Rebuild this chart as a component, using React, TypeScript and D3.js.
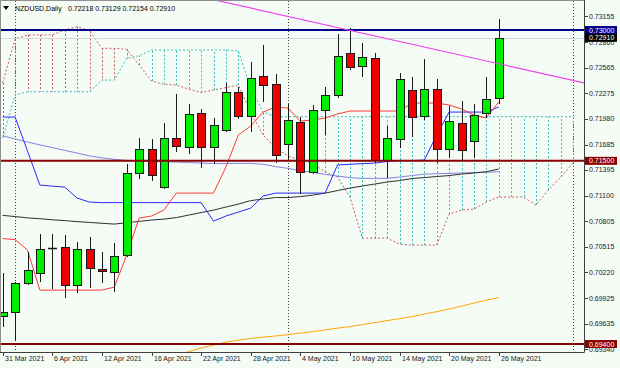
import React from 'react';
import * as d3 from 'd3';

// ---------- data ----------
const dates = [
  '2021-03-31', '2021-04-01', '2021-04-02', '2021-04-05', '2021-04-06', '2021-04-07', '2021-04-08', '2021-04-09',
  '2021-04-12', '2021-04-13', '2021-04-14', '2021-04-15', '2021-04-16', '2021-04-19', '2021-04-20', '2021-04-21',
  '2021-04-22', '2021-04-23', '2021-04-26', '2021-04-27', '2021-04-28', '2021-04-29', '2021-04-30', '2021-05-03',
  '2021-05-04', '2021-05-05', '2021-05-06', '2021-05-07', '2021-05-10', '2021-05-11', '2021-05-12', '2021-05-13',
  '2021-05-14', '2021-05-17', '2021-05-18', '2021-05-19', '2021-05-20', '2021-05-21', '2021-05-24', '2021-05-25',
  '2021-05-26',
];
const futureDates = ['2021-05-27', '2021-05-28', '2021-05-31', '2021-06-01', '2021-06-02', '2021-06-03'];

const openP = [
  0.69723, 0.69769, 0.70095, 0.70209, 0.70503, 0.70514, 0.70072, 0.70485, 0.70262, 0.70228,
  0.70419, 0.71356, 0.71635, 0.71196, 0.71758, 0.71661, 0.72045, 0.71661, 0.71853, 0.72285,
  0.72014, 0.72472, 0.72377, 0.71689, 0.71948, 0.71368, 0.72082, 0.72251, 0.72740, 0.72587,
  0.72682, 0.71509, 0.71750, 0.72308, 0.72017, 0.72327, 0.71632, 0.71937, 0.71727, 0.72051,
  0.72218,
];
const highP = [
  0.70209, 0.70110, 0.70457, 0.70660, 0.70660, 0.70649, 0.70572, 0.70622, 0.70457, 0.70553,
  0.71463, 0.71765, 0.71750, 0.71937, 0.72262, 0.72148, 0.72094, 0.71994, 0.72396, 0.72350,
  0.72636, 0.72828, 0.72492, 0.72148, 0.71999, 0.72140, 0.72350, 0.72954, 0.73023, 0.72854,
  0.72740, 0.71899, 0.72510, 0.72464, 0.72664, 0.72438, 0.72128, 0.72189, 0.72148, 0.72464,
  0.73129,
];
const lowP = [
  0.69597, 0.69430, 0.70075, 0.70113, 0.70026, 0.69923, 0.69987, 0.70037, 0.70095, 0.69998,
  0.70396, 0.71291, 0.71271, 0.71180, 0.71604, 0.71574, 0.71420, 0.71463, 0.71834, 0.71976,
  0.71834, 0.72171, 0.71471, 0.71509, 0.71119, 0.71350, 0.71796, 0.72220, 0.72541, 0.72464,
  0.71471, 0.71299, 0.71650, 0.71769, 0.71968, 0.71471, 0.71528, 0.71509, 0.71535, 0.71987,
  0.72154,
];
const closeP = [
  0.69769, 0.70095, 0.70247, 0.70485, 0.70503, 0.70072, 0.70485, 0.70267, 0.70236, 0.70408,
  0.71356, 0.71635, 0.71337, 0.71758, 0.71670, 0.72037, 0.71661, 0.71910, 0.72285, 0.72014,
  0.72453, 0.72369, 0.71566, 0.71964, 0.71368, 0.72082, 0.72251, 0.72702, 0.72579, 0.72687,
  0.71509, 0.71758, 0.72435, 0.72006, 0.72320, 0.71632, 0.71956, 0.71624, 0.72025, 0.72205,
  0.72910,
];

const tenkan = [
  0.70609, 0.70597, 0.70477, 0.70018, 0.70018, 0.70018, 0.70018, 0.70018, 0.70018, 0.70052,
  0.70419, 0.70844, 0.70867, 0.70935, 0.71130, 0.71130, 0.71130, 0.71130, 0.71429, 0.71796,
  0.71899, 0.72059, 0.72117, 0.72105, 0.71956, 0.71968, 0.71991, 0.72037, 0.72071, 0.72071,
  0.72071, 0.72071, 0.72071, 0.72163, 0.72163, 0.72163, 0.72140, 0.72094, 0.72025, 0.71991,
  0.72174,
];
const kijun = [
  0.72002, 0.72002, 0.71612, 0.71222, 0.71210, 0.71199, 0.71073, 0.71027, 0.71021, 0.71021,
  0.71021, 0.71021, 0.71021, 0.71021, 0.71021, 0.71021, 0.71021, 0.70809, 0.70867, 0.70912,
  0.70958, 0.71096, 0.71130, 0.71130, 0.71130, 0.71130, 0.71130, 0.71452, 0.71460, 0.71469,
  0.71474, 0.71492, 0.71503, 0.71503, 0.71509, 0.71796, 0.72059, 0.72059, 0.72059, 0.72059,
  0.72117,
];
const spanA = [
  0.72392, 0.72897, 0.72943, 0.72943, 0.72943, 0.73000, 0.73038, 0.72994, 0.72790, 0.72790,
  0.72779, 0.72599, 0.72415, 0.72377, 0.72369, 0.72323, 0.72283, 0.72312, 0.72340, 0.72369,
  0.72059, 0.71796, 0.71647, 0.71555, 0.71509, 0.71474, 0.71371, 0.71314, 0.71085, 0.70614,
  0.70614, 0.70614, 0.70545, 0.70534, 0.70534, 0.70534, 0.70890, 0.70935, 0.70947, 0.71027,
  0.71085, 0.71085, 0.71085, 0.70993, 0.71165, 0.71314, 0.71474,
];
const spanB = [
  0.71761, 0.72254, 0.72292, 0.72292, 0.72292, 0.72292, 0.72292, 0.72292, 0.72426, 0.72426,
  0.72675, 0.72705, 0.72771, 0.72771, 0.72771, 0.72771, 0.72771, 0.72771, 0.72771, 0.72759,
  0.72335, 0.72059, 0.72006, 0.72006, 0.72006, 0.72006, 0.72006, 0.72006, 0.72006, 0.72006,
  0.72006, 0.72006, 0.72006, 0.72006, 0.72006, 0.72006, 0.72006, 0.72006, 0.72006, 0.72006,
  0.72006, 0.72006, 0.72006, 0.72006, 0.72006, 0.72006, 0.72006,
];
const maBlack = [
  0.70875, 0.70861, 0.70846, 0.70836, 0.70824, 0.70815, 0.70803, 0.70794, 0.70784, 0.70775,
  0.70790, 0.70806, 0.70821, 0.70832, 0.70849, 0.70878, 0.70907, 0.70935, 0.70970, 0.71004,
  0.71044, 0.71062, 0.71079, 0.71079, 0.71090, 0.71107, 0.71130, 0.71159, 0.71188, 0.71211,
  0.71234, 0.71257, 0.71274, 0.71297, 0.71308, 0.71320, 0.71331, 0.71348, 0.71360, 0.71375,
  0.71406,
];
const maSlate = [
  0.71788, 0.71750, 0.71715, 0.71683, 0.71652, 0.71620, 0.71589, 0.71557, 0.71534, 0.71517,
  0.71505, 0.71497, 0.71492, 0.71489, 0.71486, 0.71480, 0.71474, 0.71469, 0.71469, 0.71471,
  0.71471, 0.71460, 0.71434, 0.71414, 0.71388, 0.71368, 0.71345, 0.71325, 0.71308, 0.71299,
  0.71299, 0.71299, 0.71314, 0.71331, 0.71348, 0.71352, 0.71356, 0.71360, 0.71366, 0.71369,
  0.71375,
];
const maOrange: (number | null)[] = [
  null, null, null, null, null, null, null, null, null, null, null, null, null, null,
  0.69272, 0.69312, 0.69353, 0.69387, 0.69421, 0.69444, 0.69464, 0.69479, 0.69492, 0.69507,
  0.69525, 0.69542, 0.69561, 0.69582, 0.69599, 0.69622, 0.69645, 0.69668, 0.69691, 0.69714,
  0.69743, 0.69771, 0.69800, 0.69834, 0.69869, 0.69903, 0.69932,
];

const resistanceLevel = 0.73;
const supportLevels = [0.715, 0.694];
const bidPrice = 0.7291;
const trendIdx = [22.5, 45.5];
const trendPrice = [0.73172, 0.72438];
const priceTicks = [
  0.73155, 0.7286, 0.72565, 0.72275, 0.7198, 0.71685, 0.71395, 0.711, 0.70805, 0.70515,
  0.7022, 0.69925, 0.69635, 0.6934,
];
const dateTickDates = [
  '2021-03-31', '2021-04-06', '2021-04-12', '2021-04-16', '2021-04-22', '2021-04-28',
  '2021-05-04', '2021-05-10', '2021-05-14', '2021-05-20', '2021-05-26',
];
const dateTickLabels = [
  '31 Mar 2021', '6 Apr 2021', '12 Apr 2021', '16 Apr 2021', '22 Apr 2021', '28 Apr 2021',
  '4 May 2021', '10 May 2021', '14 May 2021', '20 May 2021', '26 May 2021',
];
const separatorDates = ['2021-04-01', '2021-05-03', '2021-06-03'];
const symbolName = 'NZDUSD,Daily';
const lastBarOHLC = ['0.72218', '0.73129', '0.72154', '0.72910'];

// ---------- component ----------
export default function App() {
  const W = 620;
  const H = 368;
  const plotL = 1;
  const plotR = 584;
  const plotT = 1;
  const plotB = 352;
  const step = 12.4;
  const x0 = 2.7;

  const allDates = dates.concat(futureDates);
  const xi = d3.scaleLinear().domain([0, allDates.length - 1]).range([x0, x0 + step * (allDates.length - 1)]);
  const xd = (d: string) => xi(allDates.indexOf(d));
  const y = d3.scaleLinear().domain([0.694, 0.73]).range([344, 30]);

  const font = 'Liberation Sans, Arial, sans-serif';
  const fs = 7;

  const lineGen = d3
    .line<number | null>()
    .defined((v) => v != null)
    .x((_, i) => xi(i))
    .y((v) => y(v as number));

  const bg = '#f5fbf5';
  const bull = '#00ee00';
  const bear = '#ee0000';
  const spanAColor = '#cd5c5c';
  const spanBColor = '#3cbcbc';
  const darkRed = '#8b0000';
  const navy = '#00008b';

  // trend line extended across the plot
  const slope = (trendPrice[1] - trendPrice[0]) / (trendIdx[1] - trendIdx[0]);
  const tA = xi.invert(plotL);
  const tB = xi.invert(plotR);
  const trendY = (t: number) => y(trendPrice[0] + slope * (t - trendIdx[0]));

  const hatch = spanA.map((a, i) => {
    const b = spanB[i];
    return { i, a, b, color: a >= b ? spanAColor : spanBColor };
  });

  return (
    <svg width={W} height={H} style={{ position: 'absolute', left: 0, top: 0, background: bg }}>
      <defs>
        <clipPath id="plot">
          <rect x={plotL} y={plotT} width={plotR - plotL} height={plotB - plotT} />
        </clipPath>
      </defs>
      <rect x={0} y={0} width={W} height={H} fill={bg} />

      <g clipPath="url(#plot)">
        {/* period separators */}
        {separatorDates.map((d) => (
          <line key={d} x1={Math.round(xd(d)) + 0.5} x2={Math.round(xd(d)) + 0.5} y1={plotT} y2={plotB}
            stroke="#404040" strokeWidth={1} strokeDasharray="1,2" />
        ))}

        {/* Ichimoku cloud hatches */}
        {hatch.map((h) => (
          <line key={'h' + h.i} x1={Math.round(xi(h.i)) + 0.5} x2={Math.round(xi(h.i)) + 0.5}
            y1={y(h.a)} y2={y(h.b)} stroke={h.color} strokeWidth={1} strokeDasharray="2,2" />
        ))}
        <path d={lineGen(spanA) || ''} fill="none" stroke={spanAColor} strokeWidth={1} strokeDasharray="2,2" />
        <path d={lineGen(spanB) || ''} fill="none" stroke={spanBColor} strokeWidth={1} strokeDasharray="2,2" />

        {/* moving averages */}
        <path d={lineGen(maOrange) || ''} fill="none" stroke="#ffa500" strokeWidth={1} />
        <path d={lineGen(maSlate) || ''} fill="none" stroke="#8484e4" strokeWidth={1} />
        <path d={lineGen(maBlack) || ''} fill="none" stroke="#303030" strokeWidth={1} />

        {/* tenkan / kijun */}
        <path d={lineGen(kijun) || ''} fill="none" stroke="#2a2aff" strokeWidth={1} />
        <path d={lineGen(tenkan) || ''} fill="none" stroke="#ff3a3a" strokeWidth={1} />

        {/* bid line */}
        <line x1={plotL} x2={plotR} y1={Math.round(y(bidPrice)) + 0.5} y2={Math.round(y(bidPrice)) + 0.5}
          stroke="#d0d8e0" strokeWidth={1} />

        {/* candles */}
        {dates.map((d, i) => {
          const o = openP[i];
          const c = closeP[i];
          const cx = Math.round(xi(i)) + 0.5;
          const yh = y(highP[i]);
          const yl = y(lowP[i]);
          const top = Math.round(y(Math.max(o, c)));
          const bot = Math.round(y(Math.min(o, c)));
          const isBull = c > o;
          const flat = o === c;
          return (
            <g key={d}>
              <line x1={cx} x2={cx} y1={Math.round(yh)} y2={Math.round(yl)} stroke="#1a1a1a" strokeWidth={1} />
              {flat ? (
                <line x1={cx - 4.5} x2={cx + 4.5} y1={top + 0.5} y2={top + 0.5} stroke="#1a1a1a" strokeWidth={1.5} />
              ) : (
                <rect x={cx - 4} y={top + 0.5} width={8} height={Math.max(1, bot - top)}
                  fill={isBull ? bull : bear} stroke="#1a1a1a" strokeWidth={1} />
              )}
            </g>
          );
        })}

        {/* horizontal levels */}
        <line x1={plotL} x2={plotR} y1={y(resistanceLevel)} y2={y(resistanceLevel)} stroke={navy} strokeWidth={2} />
        {supportLevels.map((lv) => (
          <line key={lv} x1={plotL} x2={plotR} y1={y(lv)} y2={y(lv)} stroke={darkRed} strokeWidth={2} />
        ))}

        {/* trend line */}
        <line x1={xi(tA)} x2={xi(tB)} y1={trendY(tA)} y2={trendY(tB)} stroke="#ee44ee" strokeWidth={1.2} />
      </g>

      {/* frame */}
      <line x1={0.5} x2={0.5} y1={0} y2={plotB} stroke="#909090" />
      <line x1={0} x2={plotR} y1={0.5} y2={0.5} stroke="#909090" />
      <line x1={plotR + 0.5} x2={plotR + 0.5} y1={0} y2={plotB + 0.5} stroke="#404040" />
      <line x1={0} x2={plotR + 0.5} y1={plotB + 0.5} y2={plotB + 0.5} stroke="#404040" />

      {/* title */}
      <path d="M3,6 L9,6 L6,10 Z" fill="#000" />
      <text x={15} y={11} fontFamily={font} fontSize={fs} fill="#000">{symbolName}</text>
      <text x={68} y={11} fontFamily={font} fontSize={fs} fill="#000">{lastBarOHLC.join(' ')}</text>

      {/* price axis */}
      {priceTicks.map((t) => (
        <g key={t}>
          <line x1={plotR + 1} x2={plotR + 4} y1={Math.round(y(t)) + 0.5} y2={Math.round(y(t)) + 0.5} stroke="#404040" />
          <text x={589} y={y(t) + 2.5} fontFamily={font} fontSize={fs} fill="#202020">{t.toFixed(5)}</text>
        </g>
      ))}

      {/* price labels */}
      {[
        { v: resistanceLevel, c: navy },
        { v: bidPrice, c: '#000000' },
        { v: supportLevels[0], c: darkRed },
        { v: supportLevels[1], c: darkRed },
      ].map((p) => (
        <g key={'lbl' + p.v}>
          <rect x={plotR + 1} y={y(p.v) - 4} width={32} height={8} fill={p.c} />
          <text x={589} y={y(p.v) + 2.5} fontFamily={font} fontSize={fs} fill="#ffffff">{p.v.toFixed(5)}</text>
        </g>
      ))}

      {/* date axis */}
      {dateTickDates.map((d, k) => {
        const xx = Math.round(xd(d)) + 0.5;
        return (
          <g key={d}>
            <line x1={xx} x2={xx} y1={plotB} y2={plotB + 4} stroke="#404040" />
            <text x={xx + 1.5} y={360.5} fontFamily={font} fontSize={fs} fill="#202020">{dateTickLabels[k]}</text>
          </g>
        );
      })}
    </svg>
  );
}
